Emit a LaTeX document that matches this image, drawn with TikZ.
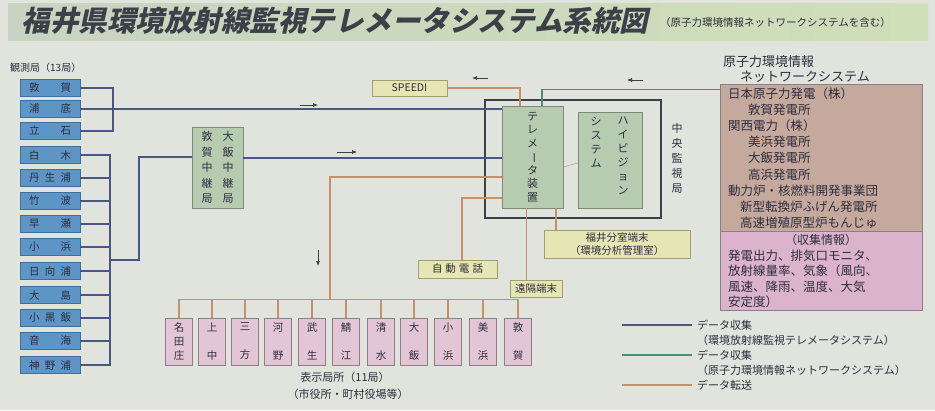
\documentclass[tikz,border=0pt]{standalone}
\usepackage{fontspec}
\setmainfont{Noto Sans CJK JP}
\usepackage{graphicx}
\usetikzlibrary{arrows.meta}
\definecolor{bg}{HTML}{E1E3DD}
\definecolor{txt}{HTML}{2E2E3E}
\definecolor{stf}{HTML}{5D95C6}
\definecolor{stb}{HTML}{3F6F9C}
\definecolor{grf}{HTML}{B7CBB0}
\definecolor{grb}{HTML}{7A8C78}
\definecolor{pkf}{HTML}{E2C6D6}
\definecolor{pkb}{HTML}{8F7D88}
\definecolor{ylf}{HTML}{E6E6B4}
\definecolor{ylb}{HTML}{A3A070}
\definecolor{brf}{HTML}{C5A99C}
\definecolor{pnf}{HTML}{DCB3CC}
\definecolor{pnb}{HTML}{8A7F82}
\definecolor{blc}{HTML}{4A5688}
\definecolor{tlc}{HTML}{4F8B7C}
\definecolor{orc}{HTML}{C99068}
\definecolor{dkc}{HTML}{3C4048}
\definecolor{bandl}{HTML}{C9D3C2}
\definecolor{bandm}{HTML}{82A6B0}
\definecolor{bandr}{HTML}{CFDFB8}
\begin{document}
\begin{tikzpicture}[x=1pt,y=-1pt,
  every node/.style={text=txt},
  st/.style={draw=stb,fill=stf,line width=0.8pt,minimum width=60pt,minimum height=17pt,inner sep=0pt,font=\fontsize{10.5}{12}\selectfont},
  grbox/.style={draw=grb,fill=grf,line width=0.8pt,inner sep=0pt},
  dbox/.style={draw=pkb,fill=pkf,line width=0.8pt,minimum width=27pt,minimum height=47pt,inner sep=0pt,align=center,font=\fontsize{10.5}{14}\selectfont},
  ybox/.style={draw=ylb,fill=ylf,line width=0.8pt,inner sep=0pt,font=\fontsize{10.5}{12}\selectfont},
  bl/.style={draw=blc,line width=1.1pt},
  tl/.style={draw=tlc,line width=1.1pt},
  orl/.style={draw=orc,line width=1.1pt},
  arr/.style={draw=dkc,line width=0.7pt,-{Latex[length=5pt,width=4pt]}},
  ttxt/.style={font=\fontsize{12.5}{14}\selectfont,anchor=west,inner sep=0pt}
]
\useasboundingbox (0,0) rectangle (935,410);
\fill[bg] (0,0) rectangle (935,410);
% title band
\shade[left color=bandl,middle color=bandm,right color=bandr] (8,3) rectangle (928,40);
\node[anchor=west,font=\fontsize{28.5}{30}\selectfont\bfseries,text=dkc,xslant=0.22,inner sep=0pt] (title) at (24,21) {福井県環境放射線監視テレメータシステム系統図};
\node[anchor=west,font=\fontsize{10.5}{12}\selectfont,inner sep=0pt] (subt) at (660,23) {（原子力環境情報ネットワークシステムを含む）};

% stations
\node[anchor=west,font=\fontsize{10}{12}\selectfont,inner sep=0pt] (obs) at (10,68) {観測局（13局）};
\foreach \n/\y/\t in {1/88/{敦\hfill 賀},2/109/{浦\hfill 底},3/131/{立\hfill 石},4/155/{白\hfill 木},
  5/178/{丹\hfill 生\hfill 浦},6/201/{竹\hfill 波},7/224/{早\hfill 瀬},8/247/{小\hfill 浜},
  9/271/{日\hfill 向\hfill 浦},10/295/{大\hfill 島},11/318/{小\hfill 黒\hfill 飯},12/341/{音\hfill 海},13/365/{神\hfill 野\hfill 浦}}
  \node[st] (s\n) at (50,\y) {\makebox[42pt][s]{\t}};

% relay
\node[grbox,minimum width=51pt,minimum height=81pt,align=center,font=\fontsize{11}{15.5}\selectfont] (relay) at (217.5,167.5)
  {敦\hspace{10pt}大\\賀\hspace{10pt}飯\\中\hspace{10pt}中\\継\hspace{10pt}継\\局\hspace{10pt}局};

% central
\node[draw=dkc,line width=1.3pt,minimum width=176pt,minimum height=118pt,inner sep=0pt] (cms) at (573,159) {};
\node[grbox,minimum width=61pt,minimum height=102pt,align=center,font=\fontsize{11}{13.5}\selectfont] (tele) at (532.5,157)
  {テ\\レ\\メ\\\rotatebox[origin=c]{-90}{ー}\\タ\\装\\置};
\node[grbox,minimum width=64pt,minimum height=96pt] (srv) at (610,160) {};
\node[anchor=north,align=center,font=\fontsize{11}{14}\selectfont,inner sep=0pt] (srvr) at (623,117)
  {ハ\\イ\\ビ\\ジ\\ョ\\ン};
\node[anchor=north,align=center,font=\fontsize{11}{14}\selectfont,inner sep=0pt] (srvl) at (596,117)
  {シ\\ス\\テ\\ム};
\node[align=center,font=\fontsize{11}{15}\selectfont,inner sep=0pt] (cmsl) at (677,158)
  {中\\央\\監\\視\\局};
\draw[draw=gray!70,line width=0.6pt] ([yshift=-10pt]tele.east) -- ([yshift=-3pt]srv.west);

% SPEEDI and terminals
\node[ybox,minimum width=75pt,minimum height=16pt] (speedi) at (409.5,88) {SPEEDI};
\node[ybox,minimum width=79pt,minimum height=18pt] (auto) at (457.5,269) {自\hspace{3pt}動\hspace{3pt}電\hspace{3pt}話};
\node[ybox,minimum width=52pt,minimum height=17pt] (remote) at (536,288.5) {遠隔端末};
\node[ybox,minimum width=146pt,minimum height=28pt,align=center,font=\fontsize{10.5}{12.5}\selectfont] (fukui) at (617,244)
  {福井分室端末\\（環境分析管理室）};

% right panel
\node[anchor=west,font=\fontsize{13}{15}\selectfont,inner sep=0pt] (nh1) at (723,62) {原子力環境情報};
\node[anchor=west,font=\fontsize{13}{15}\selectfont,inner sep=0pt] (nh2) at (740,77) {ネットワークシステム};
\node[draw=pnb,fill=brf,line width=0.8pt,minimum width=202pt,minimum height=147pt,inner sep=0pt] (netbox) at (821,157.5) {};
\node[draw=pnb,fill=pnf,line width=0.8pt,minimum width=202pt,minimum height=79pt,inner sep=0pt] (kbox) at (821,270.5) {};
\node[ttxt] (n1) at (728,94) {日本原子力発電（株）};
\node[ttxt] (n2) at (748,110) {敦賀発電所};
\node[ttxt] (n3) at (728,126) {関西電力（株）};
\node[ttxt] (n4) at (748,142) {美浜発電所};
\node[ttxt] (n5) at (748,158) {大飯発電所};
\node[ttxt] (n6) at (748,175) {高浜発電所};
\node[ttxt] (n7) at (728,191) {動力炉・核燃料開発事業団};
\node[ttxt] (n8) at (740,207) {新型転換炉ふげん発電所};
\node[ttxt] (n9) at (740,223) {高速増殖原型炉もんじゅ};
\node[font=\fontsize{12}{14}\selectfont,inner sep=0pt] (k0) at (821,240) {（収集情報）};
\node[ttxt] (k1) at (728,256) {発電出力、排気口モニタ、};
\node[ttxt] (k2) at (728,271) {放射線量率、気象（風向、};
\node[ttxt] (k3) at (728,287) {風速、降雨、温度、大気};
\node[ttxt] (k4) at (728,302) {安定度）};

% bottom displays
\foreach \n/\x/\t in {1/179/{名\\田\\庄},2/212/{上\\[14pt]中},3/245/{三\\[14pt]方},4/278/{河\\[14pt]野},
  5/312/{武\\[14pt]生},6/346/{鯖\\[14pt]江},7/381/{清\\[14pt]水},8/414/{大\\[14pt]飯},
  9/448/{小\\[14pt]浜},10/483/{美\\[14pt]浜},11/518/{敦\\[14pt]賀}}
  \node[dbox] (d\n) at (\x,341.5) {\t};
\node[font=\fontsize{11}{13}\selectfont,inner sep=0pt] (dl1) at (345,377) {表示局所（11局）};
\node[font=\fontsize{11}{13}\selectfont,inner sep=0pt] (dl2) at (348,394) {（市役所・町村役場等）};

% station connectors
\coordinate (g1) at (113,131);
\draw[bl] (s1.east) -| (g1) -- (s3.east);
\draw[bl] (s2.east) -- (s2.east -| tele.west);
\coordinate (g2b) at (110,365);
\draw[bl] (s4.east) -| (g2b) -- (s13.east);
\foreach \i in {5,...,12} \draw[bl] (s\i.east) -- (s\i.east -| g2b);
\coordinate (g2) at (110,260);
\draw[bl] (g2) -- ++(29,0) |- ([yshift=10.5pt]relay.west);
\draw[bl] ([yshift=9.5pt]relay.east) coordinate (r1) -- (r1 -| tele.west);

% network and SPEEDI
\draw[tl] ([yshift=-6pt]netbox.north west) -| ([xshift=9.5pt]tele.north);
\draw[orl] (speedi.east) -| ([xshift=-12.5pt]tele.north);

% data transfer
\coordinate (busj) at (330,300);
\draw[orl] ([yshift=-20pt]tele.west) -| (busj);
\draw[orl] (d1.north) -- ++(0,-18) -| (d11.north);
\foreach \i in {2,...,10} \draw[orl] (d\i.north) -- ++(0,-18);
\draw[orl] ([xshift=4.5pt]auto.north) |- ([yshift=-41pt]tele.west);
\draw[orl] ([xshift=-6pt]tele.south) -- ([xshift=-6pt]tele.south |- remote.north);
\draw[orl] ([xshift=23.5pt]tele.south) -- ([xshift=23.5pt]tele.south |- fukui.north);

% direction arrows
\draw[arr] (300,105) -- (318,105);
\draw[arr] (337,152) -- (357,152);
\draw[arr] (318,250) -- (318,266);
\draw[arr] (488,78) -- (472,78);
\draw[arr] (643,80) -- (627,80);

% legend
\coordinate (la1) at (622,325); \coordinate (lb1) at (692,325);
\coordinate (la2) at (622,355); \coordinate (lb2) at (692,355);
\coordinate (la3) at (622,385); \coordinate (lb3) at (692,385);
\draw[bl] (la1) -- (lb1);
\draw[tl] (la2) -- (lb2);
\draw[orl] (la3) -- (lb3);
\node[anchor=west,font=\fontsize{11}{13}\selectfont,inner sep=0pt] (lg1) at (697,325) {データ収集};
\node[anchor=west,font=\fontsize{11}{13}\selectfont,inner sep=0pt] (lg1b) at (697,340) {（環境放射線監視テレメータシステム）};
\node[anchor=west,font=\fontsize{11}{13}\selectfont,inner sep=0pt] (lg2) at (697,355) {データ収集};
\node[anchor=west,font=\fontsize{11}{13}\selectfont,inner sep=0pt] (lg2b) at (697,370) {（原子力環境情報ネットワークシステム）};
\node[anchor=west,font=\fontsize{11}{13}\selectfont,inner sep=0pt] (lg3) at (697,385) {データ転送};
\end{tikzpicture}
\end{document}
